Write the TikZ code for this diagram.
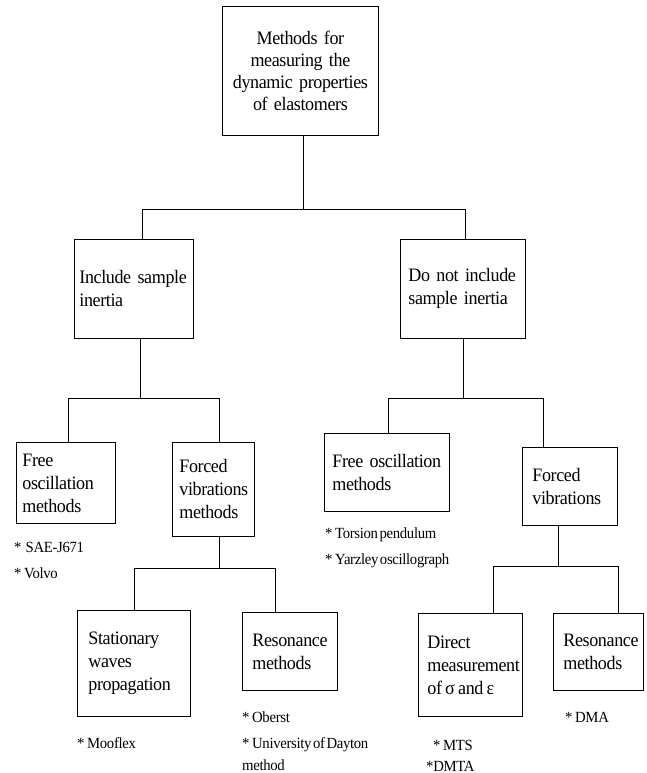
\documentclass[tikz,border=0pt]{standalone}
\usepackage{fontspec}
\setmainfont{Liberation Serif}[FakeStretch=0.95, LetterSpace=-2, WordSpace=0.45]
\usetikzlibrary{positioning}
\hyphenpenalty=10000
\exhyphenpenalty=10000

\tikzset{
  box/.style={draw, line width=0.8pt, anchor=north west, align=left, inner ysep=0pt,
    font=\fontsize{19}{23}\selectfont},
  note/.style={anchor=base west, inner sep=0pt, font=\fontsize{15.5}{20}\selectfont},
  link/.style={line width=0.8pt}
}

\begin{document}
\begin{tikzpicture}[x=1pt,y=-1pt]
\useasboundingbox (0,0) rectangle (646,773);
% root
\node[box, align=center, inner xsep=10pt, text width=136pt, minimum height=129pt,
  font=\fontsize{19}{22}\selectfont] (T) at (222,6)
  {Methods for\\measuring the\\dynamic properties\\of elastomers};
% first level
\node[box, inner xsep=5pt, text width=109pt, minimum height=99pt] (L1) at (74,239) {Include sample\\inertia};
\node[box, inner xsep=8pt, text width=109pt, minimum height=99pt] (R1) at (400,239) {Do not include\\sample inertia};
% second level
\node[box, inner xsep=6pt, text width=87pt, minimum height=81pt] (L2a) at (16,442) {Free\\oscillation\\methods};
\node[box, inner xsep=7pt, text width=68pt, minimum height=94pt] (L2b) at (172,442) {Forced\\vibrations\\methods};
\node[box, inner xsep=8pt, text width=109pt, minimum height=78pt] (R2a) at (324,433) {Free oscillation\\methods};
\node[box, inner xsep=10pt, text width=75pt, minimum height=78pt] (R2b) at (522,447) {Forced\\vibrations};
% third level
\node[box, inner xsep=11pt, text width=91pt, minimum height=106pt] (L3a) at (77,610) {Stationary\\waves\\propagation};
\node[box, inner xsep=10pt, text width=75pt, minimum height=78pt] (L3b) at (242,612) {Resonance\\methods};
\node[box, inner xsep=9pt, text width=86pt, minimum height=103pt] (R3a) at (418,613) {Direct\\measurement\\of\,σ\,and\,ε};
\node[box, inner xsep=10pt, text width=70pt, minimum height=77pt] (R3b) at (553,613) {Resonance\\methods};

% junctions of the tree
\coordinate (j0) at (303,209); \coordinate (a1) at (142,209); \coordinate (a2) at (465,209);
\coordinate (b0) at (140,398); \coordinate (b1) at (68,398);  \coordinate (b2) at (219,398);
\coordinate (c0) at (463,398); \coordinate (c1) at (388,398); \coordinate (c2) at (543,398);
\coordinate (d0) at (219,568); \coordinate (d1) at (134,568); \coordinate (d2) at (275,568);
\coordinate (e0) at (558,566); \coordinate (e1) at (493,566); \coordinate (e2) at (618,566);
\foreach \up/\jn/\lft/\lj/\rgt/\rj in {T/j0/L1/a1/R1/a2, L1/b0/L2a/b1/L2b/b2,
    R1/c0/R2a/c1/R2b/c2, L2b/d0/L3a/d1/L3b/d2, R2b/e0/R3a/e1/R3b/e2}{
  \draw[link] (\up.south -| \jn) -- (\jn);
  \draw[link] (\lft.north -| \lj) -- (\lj) -- (\rj) -- (\rgt.north -| \rj);
}

% examples under the boxes
\node[note] (sae) at (14,552) {*\, SAE-J671};
\node[note] (volvo) at (14,578) {*\,Volvo};
\node[note] (tors) at (325,538) {*\,Torsion pendulum};
\node[note] (yarz) at (325,564) {*\,Yarzley oscillograph};
\node[note] (moof) at (77,748) {*\,Mooflex};
\node[note] (obst) at (242,722) {*\,Oberst};
\node[note] (dayt) at (242,748) {*\,University of Dayton};
\node[note] (dayt2) at (242,770) {method};
\node[note] (mts) at (433,750) {*\,MTS};
\node[note] (dmta) at (426,771) {*DMTA};
\node[note] (dma) at (565,722) {*\,DMA};
\end{tikzpicture}
\end{document}
